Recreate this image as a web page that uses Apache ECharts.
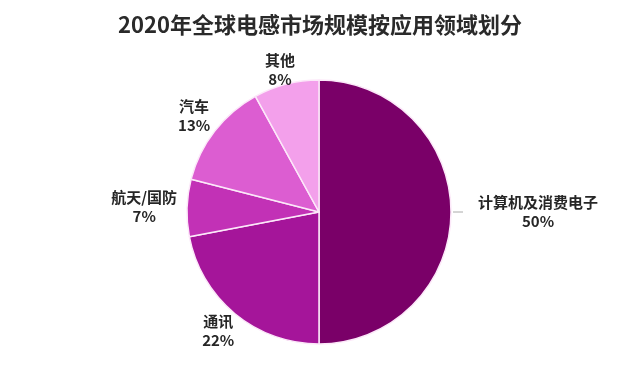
<!DOCTYPE html>
<html><head><meta charset="utf-8">
<script src="https://cdn.jsdelivr.net/npm/echarts@6/dist/echarts.min.js"></script>
<style>html,body{margin:0;padding:0;background:#fff}#c{width:640px;height:383px}</style>
</head><body><div id="c"></div>
<script>
const categories = ['计算机及消费电子','通讯','航天/国防','汽车','其他'];
const values = [50, 22, 7, 13, 8];
const colors = ['#7A0068','#A5159A','#C231B6','#DC5DD1','#F3A0EB'];
const leader = [true, false, false, false, false];

const CX = 319, CY = 212, R = 132, GAP = 10, LEADER = 17;
const total = values.reduce((a,b)=>a+b,0);
const mids = [];
let acc = 0;
values.forEach(v => { mids.push((90 - (acc + v/2)/total*360) * Math.PI/180); acc += v; });

const chart = echarts.init(document.getElementById('c'));
chart.setOption({
  animation:false,
  title:{text:'2020年全球电感市场规模按应用领域划分',left:'center',top:9,
    textStyle:{fontSize:22,fontWeight:'bold',color:'#2a2a2a',fontFamily:'Noto Sans CJK SC'}},
  series:[{
    type:'pie',
    center:[CX,CY],
    radius:[0,R],
    startAngle:90,
    clockwise:true,
    data:categories.map((n,i)=>({name:n,value:values[i],itemStyle:{color:colors[i]},
      labelLine:{show:leader[i]}})),
    itemStyle:{borderColor:'#fce8f9',borderWidth:1.5},
    label:{show:true,position:'outside',formatter:'{b}\n{d}%',
      fontSize:15,fontWeight:'bold',color:'#262626',lineHeight:19,fontFamily:'Noto Sans CJK SC'},
    labelLine:{length:8,length2:4,lineStyle:{color:'#aaaaaa',width:1}},
    labelLayout:function(p){
      const a = mids[p.dataIndex];
      const ux = Math.cos(a), uy = -Math.sin(a);
      const w = p.labelRect.width, h = p.labelRect.height;
      const d = R + GAP + (leader[p.dataIndex] ? LEADER : 0);
      const res = {
        x: CX + d*ux + w/2*ux,
        y: CY + d*uy + h/2*uy*Math.abs(ux),
        align:'center', verticalAlign:'middle'
      };
      if (leader[p.dataIndex]) {
        res.labelLinePoints = [[CX + (R+2)*ux, CY + (R+2)*uy],
                               [CX + (R+7)*ux, CY + (R+7)*uy],
                               [CX + (R+12)*ux, CY + (R+12)*uy]];
      }
      return res;
    }
  }]
});
</script></body></html>
